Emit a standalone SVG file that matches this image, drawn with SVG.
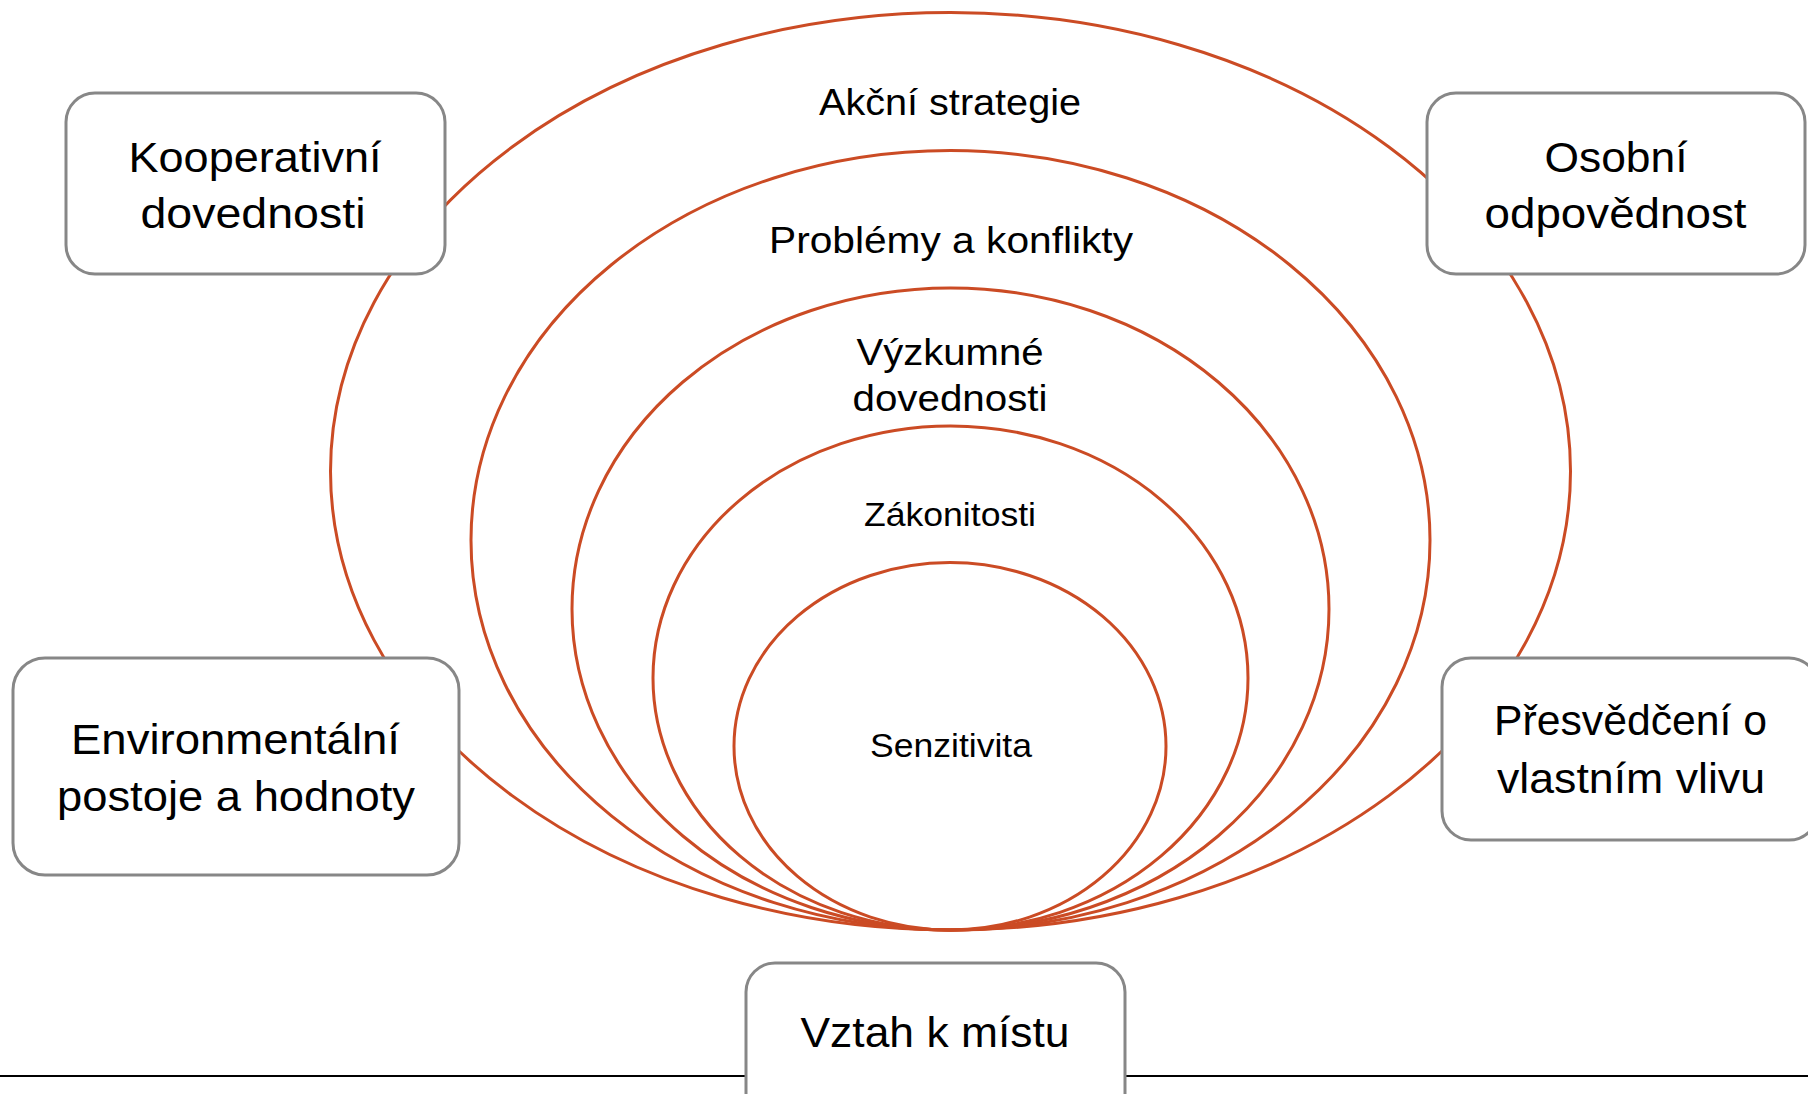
<svg xmlns="http://www.w3.org/2000/svg" width="1808" height="1094" viewBox="0 0 1808 1094">
<style>
.ring{fill:none;stroke:#CB4B24;stroke-width:3}
.box{fill:#FFFFFF;stroke:#878787;stroke-width:3}
.t{font-family:"Liberation Sans",Arial,sans-serif;fill:#000;text-anchor:middle}
.bt{font-size:43px}
.rt{font-size:37px}
.st{font-size:33px}
</style>
<rect x="0" y="0" width="1808" height="1094" fill="#FFFFFF"/>
<g id="connectors">
<line x1="0" y1="1076" x2="1808" y2="1076" stroke="#000" stroke-width="2"/>
</g>
<g id="ring-akcni">
<ellipse class="ring" cx="950.5" cy="471.3" rx="620" ry="458.7"/>
<text class="t rt" x="950" y="115" textLength="262" lengthAdjust="spacingAndGlyphs">Akční strategie</text>
</g>
<g id="ring-problemy">
<ellipse class="ring" cx="950.5" cy="540.3" rx="479.5" ry="389.7"/>
<text class="t rt" x="951" y="252.5" textLength="364" lengthAdjust="spacingAndGlyphs">Problémy a konflikty</text>
</g>
<g id="ring-vyzkumne">
<ellipse class="ring" cx="950.5" cy="609" rx="378.5" ry="321"/>
<text class="t rt" x="950" y="365" textLength="187" lengthAdjust="spacingAndGlyphs">Výzkumné</text>
<text class="t rt" x="950" y="411" textLength="195" lengthAdjust="spacingAndGlyphs">dovednosti</text>
</g>
<g id="ring-zakonitosti">
<ellipse class="ring" cx="950.5" cy="678" rx="297.5" ry="252"/>
<text class="t st" x="950" y="526" textLength="172" lengthAdjust="spacingAndGlyphs">Zákonitosti</text>
</g>
<g id="ring-senzitivita">
<ellipse class="ring" cx="950" cy="746.3" rx="216" ry="183.7"/>
<text class="t st" x="951" y="757" textLength="162" lengthAdjust="spacingAndGlyphs">Senzitivita</text>
</g>
<g id="box-kooperativni">
<rect class="box" x="66" y="93" width="379" height="181" rx="29" ry="29"/>
<text class="t bt" x="255" y="172" textLength="253" lengthAdjust="spacingAndGlyphs">Kooperativní</text>
<text class="t bt" x="253" y="228" textLength="225" lengthAdjust="spacingAndGlyphs">dovednosti</text>
</g>
<g id="box-osobni">
<rect class="box" x="1427" y="93" width="378" height="181" rx="29" ry="29"/>
<text class="t bt" x="1616" y="172" textLength="143" lengthAdjust="spacingAndGlyphs">Osobní</text>
<text class="t bt" x="1615.5" y="228" textLength="262" lengthAdjust="spacingAndGlyphs">odpovědnost</text>
</g>
<g id="box-environmentalni">
<rect class="box" x="13" y="658" width="446" height="217" rx="32" ry="32"/>
<text class="t bt" x="235.5" y="753.5" textLength="329" lengthAdjust="spacingAndGlyphs">Environmentální</text>
<text class="t bt" x="236" y="811" textLength="358" lengthAdjust="spacingAndGlyphs">postoje a hodnoty</text>
</g>
<g id="box-presvedceni">
<rect class="box" x="1442" y="658" width="376" height="182" rx="29" ry="29"/>
<text class="t bt" x="1630.5" y="735" textLength="273" lengthAdjust="spacingAndGlyphs">Přesvědčení o</text>
<text class="t bt" x="1631" y="793" textLength="268" lengthAdjust="spacingAndGlyphs">vlastním vlivu</text>
</g>
<g id="box-vztah">
<rect class="box" x="746" y="963" width="379" height="182" rx="29" ry="29"/>
<text class="t bt" x="935" y="1047" textLength="269" lengthAdjust="spacingAndGlyphs">Vztah k místu</text>
</g>
</svg>
